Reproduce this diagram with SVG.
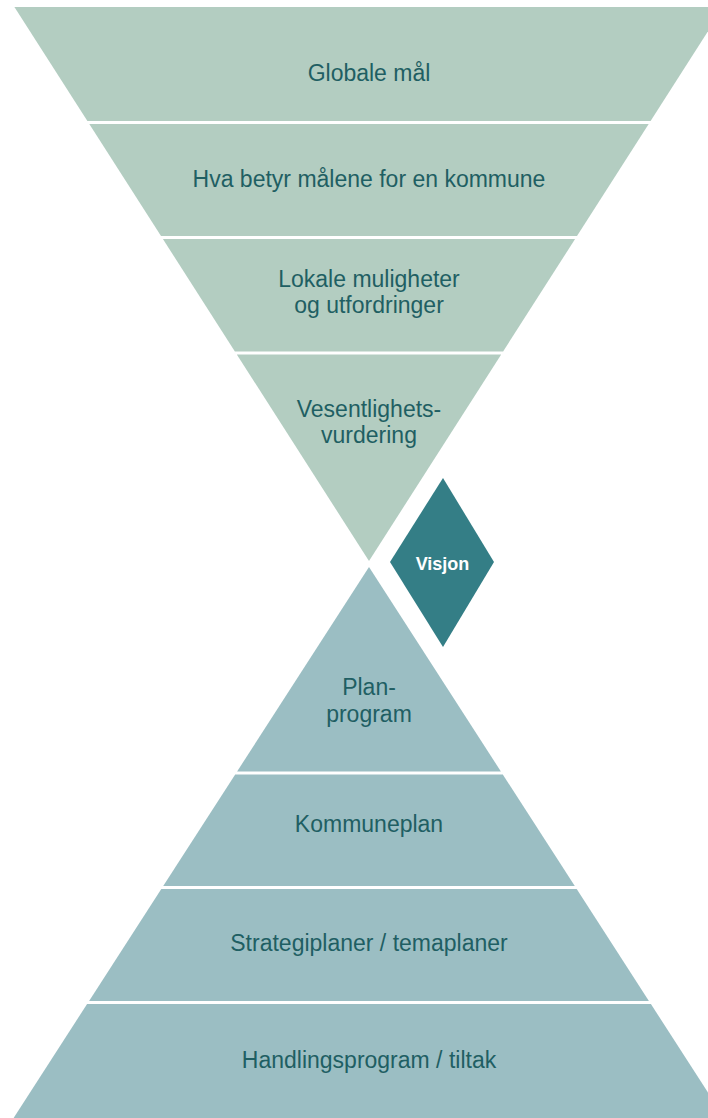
<svg xmlns="http://www.w3.org/2000/svg" width="708" height="1118" viewBox="0 0 708 1118">
<style>
.top{fill:#b3cdc1}
.bot{fill:#9bbec3}
.lbl{font-family:"Liberation Sans",Arial,sans-serif;font-size:23px;fill:#1f5f63;text-anchor:middle}
.vis{font-family:"Liberation Sans",Arial,sans-serif;font-size:18px;font-weight:bold;fill:#ffffff;text-anchor:middle}
</style>
<rect width="708" height="1118" fill="#ffffff"/>
<g id="globale-mal">
<polygon class="top" points="14.4,7 723.6,7 650.6,121 87.4,121"/>
<text class="lbl" x="369" y="81">Globale mål</text>
</g>
<g id="hva-betyr">
<polygon class="top" points="89.3,124 648.7,124 577,236 161,236"/>
<text class="lbl" x="369" y="187">Hva betyr målene for en kommune</text>
</g>
<g id="lokale-muligheter">
<polygon class="top" points="162.9,239 575.1,239 503.1,351.5 234.9,351.5"/>
<text class="lbl" x="369" y="287">Lokale muligheter</text>
<text class="lbl" x="369" y="313">og utfordringer</text>
</g>
<g id="vesentlighetsvurdering">
<polygon class="top" points="236.8,354.5 501.2,354.5 369,561"/>
<text class="lbl" x="369" y="417">Vesentlighets-</text>
<text class="lbl" x="369" y="443">vurdering</text>
</g>
<g id="visjon">
<polygon fill="#347e86" points="443,478 494,562 443,647 390,562"/>
<text class="vis" x="442.5" y="570">Visjon</text>
</g>
<g id="planprogram">
<polygon class="bot" points="369,567 500.9,771.5 237.1,771.5"/>
<text class="lbl" x="369" y="695">Plan-</text>
<text class="lbl" x="369" y="722">program</text>
</g>
<g id="kommuneplan">
<polygon class="bot" points="235.2,774.5 502.8,774.5 574.8,886 163.2,886"/>
<text class="lbl" x="369" y="832">Kommuneplan</text>
</g>
<g id="strategiplaner">
<polygon class="bot" points="161.3,889 576.7,889 648.9,1001 89.1,1001"/>
<text class="lbl" x="369" y="951">Strategiplaner / temaplaner</text>
</g>
<g id="handlingsprogram">
<polygon class="bot" points="87.1,1004 650.9,1004 724.4,1118 13.6,1118"/>
<text class="lbl" x="369" y="1068">Handlingsprogram / tiltak</text>
</g>
<g id="connectors"/>
</svg>
